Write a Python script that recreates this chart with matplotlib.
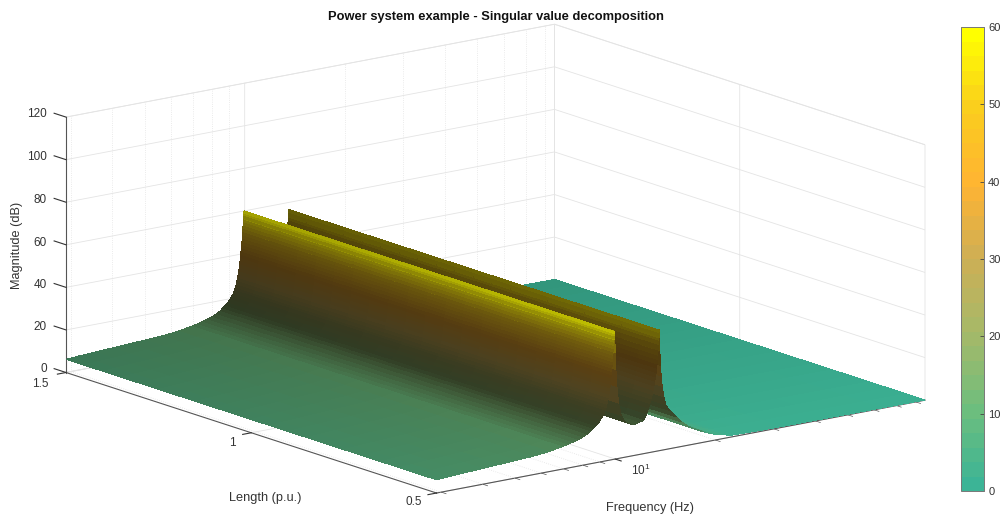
import numpy as np
import matplotlib
matplotlib.use("Agg")
import matplotlib.pyplot as plt
from matplotlib.colors import LinearSegmentedColormap, Normalize
from matplotlib.cm import ScalarMappable
from matplotlib.text import Text
from mpl_toolkits.mplot3d import proj3d

plt.rcParams['font.family'] = ['Liberation Sans', 'DejaVu Sans']
plt.rcParams['mathtext.fontset'] = 'custom'
plt.rcParams['mathtext.rm'] = 'Liberation Sans'
plt.rcParams['mathtext.default'] = 'rm'

# ---- data ----
log_frequency = [0.463, 0.50, 0.55, 0.60, 0.65, 0.70, 0.75, 0.80, 0.84, 0.855, 0.87, 0.885, 0.90, 0.9125,
                 0.925, 0.932, 0.94, 0.948, 0.955, 0.960, 0.965, 0.969, 0.972, 0.975, 0.977, 0.979, 0.981, 0.9825,
                 0.984, 0.985, 0.986, 0.987, 0.988, 0.989, 0.990, 0.991, 0.992, 0.9925, 0.993, 0.9938, 0.9945,
                 0.9952, 0.996, 0.9965, 0.997, 0.9975, 0.998,
                 0.999, 1.000, 1.002, 1.005, 1.010, 1.018, 1.03, 1.05, 1.059, 1.07, 1.085, 1.093, 1.10, 1.104, 1.108,
                 1.111, 1.114, 1.1165, 1.119, 1.121, 1.123, 1.1245, 1.126, 1.127, 1.128, 1.129, 1.130, 1.1305,
                 1.131, 1.1315, 1.132,
                 1.133, 1.134, 1.136, 1.138, 1.141, 1.146, 1.152, 1.163, 1.184, 1.20, 1.22, 1.264, 1.29, 1.32,
                 1.347, 1.40, 1.5, 1.65, 1.8, 1.931]
magnitude = [6.2, 6.6, 7.0, 7.4, 7.8, 8.2, 8.6, 9.4, 10.5, 11, 11.6, 12.3, 13, 14,
             15, 16, 17, 18.2, 19.5, 20.7, 22, 23.5, 25, 26.5, 28, 29.5, 31, 32.5,
             34, 35.5, 37, 38.5, 40, 41.5, 43, 44.5, 46, 47.5, 49, 50.5, 52,
             53.5, 55, 56.5, 58, 59, 60,
             56, 50, 42, 34, 26, 20, 16.5, 14.8, 14.5, 15, 15.6, 18, 21, 23, 25,
             27, 29, 31, 33, 35, 37, 39, 41, 43, 45, 47.5, 50, 52,
             54, 55.5, 56.7,
             53, 47, 40, 35, 30, 25, 21, 18, 14.3, 11.5, 8.8, 5, 3.2, 2,
             0.8, 0.6, 0.4, 0.3, 0.2, 0.1]
length_pu = [0.5, 0.55, 0.6, 0.65, 0.7, 0.75, 0.8, 0.85, 0.9, 0.95, 1.0,
             1.05, 1.1, 1.15, 1.2, 1.25, 1.3, 1.35, 1.4, 1.45, 1.5]
freq_minor_hz = [3, 4, 5, 6, 7, 8, 9, 20, 30, 40, 50, 60, 70, 80]
freq_major_log = [1]
length_ticks = [0.5, 1, 1.5]
length_tick_labels = ['0.5', '1', '1.5']
mag_ticks = [0, 20, 40, 60, 80, 100, 120]
cbar_ticks = [0, 10, 20, 30, 40, 50, 60]

title = 'Power system example - Singular value decomposition'
xlabel = 'Frequency (Hz)'
ylabel = 'Length (p.u.)'
zlabel = 'Magnitude (dB)'

# ---- style ----
cmap_colors = ['#3cb496', '#6ebe7d', '#a5b969', '#cdaf55', '#ffb432', '#facd1e', '#ffff00']
cmap = LinearSegmentedColormap.from_list('ridge', cmap_colors, N=32)
cmap_fine = LinearSegmentedColormap.from_list('ridge_fine', cmap_colors, N=512)
norm = Normalize(0, 60)
shade_z = [0, 3, 6, 10, 13, 17, 22, 30, 40, 50, 57, 60]
shade_v = [0.9, 0.88, 0.7, 0.66, 0.5, 0.33, 0.32, 0.36, 0.33, 0.42, 0.55, 0.72]
gain_l = [0.5, 1.5]
gain_v = [1.08, 0.92]
GRID = '#e4e4e4'
AXC = '#555555'
TXT = '#333333'

W, H = 1000, 515
fig = plt.figure(figsize=(W / 100, H / 100), dpi=100)
fig.patch.set_facecolor('white')
pos0 = [0.0, -0.47, 1.0, 1.94]
ax = fig.add_axes(pos0, projection='3d', proj_type='ortho', computed_zorder=False)
ax.patch.set_alpha(0)

xmin, xmax = log_frequency[0], log_frequency[-1]
ymin, ymax = 0.5, 1.5
zmin, zmax = 0, 120
ax.set_xlim(xmin, xmax)
ax.set_ylim(ymin, ymax)
ax.set_zlim(zmin, zmax)
ax.view_init(elev=14.4, azim=232.6)
aspect = (615.6, 610.8, 264.0)
ax.set_box_aspect(aspect, zoom=1.0)

def px(x, y, z):
    a, b, _ = proj3d.proj_transform(x, y, z, ax.get_proj())
    return ax.transData.transform((a, b))

fig.canvas.draw()
l = px(xmin, ymax, 0)
r = px(xmax, ymin, 0)
zoom = (925 - 66) / (r[0] - l[0])
ax.set_box_aspect(aspect, zoom=zoom)
fig.canvas.draw()
l = px(xmin, ymax, 0)
dx = 66 - l[0]
dy = (H - 372.5) - l[1]
ax.set_position([pos0[0] + dx / W, pos0[1] + dy / H, pos0[2], pos0[3]])
fig.canvas.draw()

# ---- surface ----
lf = np.array(log_frequency)
mag = np.array(magnitude)
Ls = np.array(length_pu)
X, Y = np.meshgrid(lf, Ls)
Z = np.outer(np.ones_like(Ls), mag)
Zc = 0.5 * (Z + np.roll(Z, -1, axis=1))
rgba = cmap_fine(norm(Zc))
second_ridge = np.where((X > 1.06) & (X < 1.136), np.interp(Zc, [25, 45], [1.0, 0.8]), 1.0)
rgb = (rgba[..., :3] * np.interp(Zc, shade_z, shade_v)[..., None]
       * np.interp(Y + 0.025, gain_l, gain_v)[..., None] * second_ridge[..., None])
rgba[..., :3] = np.clip(rgb, 0, 1)
ax.plot_surface(X, Y, Z, facecolors=rgba, rstride=1, cstride=1, shade=False,
                linewidth=0, antialiased=False, zorder=5)

# ---- axes ----
for axis in (ax.xaxis, ax.yaxis, ax.zaxis):
    axis.set_pane_color((1, 1, 1, 1))
    axis.pane.set_edgecolor(GRID)
    axis.pane.set_linewidth(0.6)
    axis.line.set_color(AXC)
    axis.line.set_linewidth(0.8)
    axis._axinfo['grid'].update(color=GRID, linewidth=0.6, linestyle='-')
    axis._axinfo['tick'].update(color=AXC)
    axis._axinfo['tick']['linewidth'] = {True: 0.8, False: 0.5}

ax.zaxis.set_ticks_position('upper')
ax.zaxis.set_label_position('upper')
ax.zaxis._get_tickdir = lambda position: 1
ax.set_xticks(freq_major_log)
ax.set_xticklabels(['$10^{1}$'])
ax.set_yticks(length_ticks)
ax.set_yticklabels(length_tick_labels)
ax.set_zticks(mag_ticks)
ax.tick_params(labelsize=8.5, colors=TXT, pad=0)
ax.xaxis._axinfo['tick'].update(inward_factor=0.2, outward_factor=0.0)
ax.yaxis._axinfo['tick'].update(inward_factor=0.22, outward_factor=0.0)
ax.zaxis._axinfo['tick'].update(inward_factor=0.0, outward_factor=0.4)
for axis in (ax.xaxis, ax.yaxis, ax.zaxis):
    axis.set_rotate_label(False)
ax.set_xlabel(xlabel, fontsize=9.2, color=TXT, rotation=0)
ax.set_ylabel(ylabel, fontsize=9.2, color=TXT, rotation=0)
ax.set_zlabel(zlabel, fontsize=9.2, color=TXT, rotation=90)

# minor log ticks and dotted minor grid
for f in freq_minor_hz:
    v = np.log10(f)
    ax.plot([v, v], [ymin, ymin - 0.013], [0, 0], color=AXC, lw=0.5, zorder=2)
    ax.plot([v, v], [ymin, ymax], [0, 0], color=GRID, lw=0.6, ls=':', zorder=1)
    ax.plot([v, v], [ymax, ymax], [zmin, zmax], color=GRID, lw=0.6, ls=':', zorder=1)

# axis texts stay on the native axes but sit at the reference's places
inv = ax.transData.inverted()
def pin(text, x, y):
    a, b = inv.transform((x, H - y))
    Text.set_position(text, (a, b))
    Text.set_ha(text, 'center')
    Text.set_va(text, 'center')
    noop = lambda *args, **kw: None
    text.set_position = noop
    text.set_x = noop
    text.set_y = noop
    text.set_ha = noop
    text.set_va = noop

pin(ax.xaxis.label, 650, 508)
pin(ax.yaxis.label, 265, 498)
pin(ax.zaxis.label, 17, 245)
for t, xy in zip(ax.xaxis.get_major_ticks(), [(641, 470)]):
    pin(t.label1, *xy)
for t, xy in zip(ax.yaxis.get_major_ticks(), [(414, 502), (232, 443), (40, 384)]):
    pin(t.label1, *xy)
for t, xy in zip(ax.zaxis.get_major_ticks(), [(44, 369), (40, 327), (40, 285), (40, 243), (40, 200), (37, 157), (37, 114)]):
    pin(t.label1, *xy)

# ---- title + colourbar ----
fig.suptitle(title, x=0.496, y=1 - 17 / H, fontsize=9.25, fontweight='bold', color='#111111', va='center')
cax = fig.add_axes([961 / W, (H - 491) / H, 23 / W, 464 / H])
cb = fig.colorbar(ScalarMappable(norm=norm, cmap=cmap), cax=cax, ticks=cbar_ticks)
cb.ax.tick_params(direction='in', length=3, width=0.6, color='#444444', labelsize=8, labelcolor=TXT, pad=3)
cb.outline.set_edgecolor('#777777')
cb.outline.set_linewidth(0.7)

fig.savefig('out.png', dpi=100)
